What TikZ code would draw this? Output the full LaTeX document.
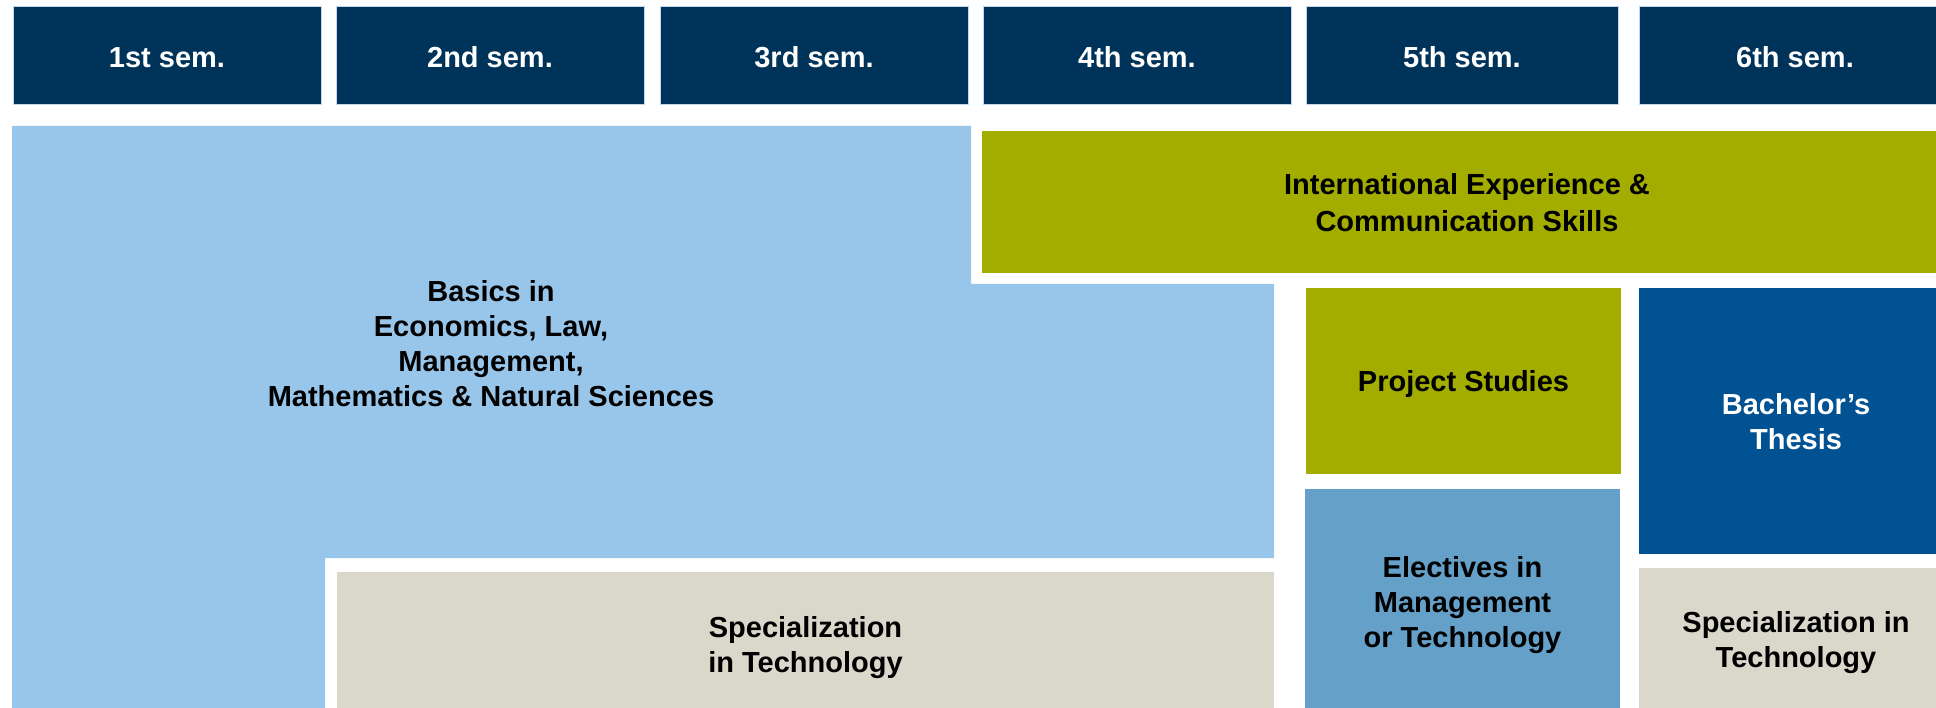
\documentclass[tikz,border=0pt]{standalone}
\usepackage{fontspec}
\setmainfont{Liberation Sans}
\usepackage{tikz}
\usetikzlibrary{positioning}

\definecolor{navy}{HTML}{003359}
\definecolor{rimblue}{HTML}{C2D8EE}
\definecolor{paleblue}{HTML}{98C6EA}
\definecolor{olive}{HTML}{A2AD00}
\definecolor{ivory}{HTML}{DAD7CB}
\definecolor{midblue}{HTML}{64A0C8}
\definecolor{deepblue}{HTML}{005293}

\tikzset{
  sem/.style={rectangle, fill=navy, draw=rimblue, line width=1pt, text=white,
    minimum width=308pt, minimum height=98pt, inner sep=0pt, outer sep=0pt,
    text height=25pt, font=\fontsize{29}{35}\selectfont\bfseries},
  module/.style={rectangle, inner sep=0pt, outer sep=0pt, align=center,
    text depth=0pt, font=\fontsize{29}{35}\selectfont\bfseries},
}

\begin{document}
\begin{tikzpicture}[x=1pt,y=-1pt]
  \useasboundingbox (0,0) rectangle (1936,708);
  \clip (0,0) rectangle (1936,708);

  % semester row
  \node[sem] (s1) at (167,55.5) {1st sem.};
  \node[sem] (s2) [right=15pt of s1] {2nd sem.};
  \node[sem] (s3) [right=16pt of s2] {3rd sem.};
  \node[sem] (s4) [right=15pt of s3] {4th sem.};
  \node[sem, minimum width=312pt] (s5) [right=15pt of s4] {5th sem.};
  \node[sem, minimum width=312pt] (s6) [right=21pt of s5] {6th sem.};

  % basics block, runs over the first four semesters
  \fill[paleblue] (12,126) -- (971,126) -- (971,284) -- (1274,284)
    -- (1274,558) -- (325,558) -- (325,708) -- (12,708) -- cycle;
  \node[module] (basics) at (491,343)
    {Basics in\\Economics, Law,\\Management,\\Mathematics \& Natural Sciences};

  \node[module, fill=ivory, minimum width=937pt, minimum height=144pt]
    (spec) at (805.5,644) {Specialization\\in Technology};

  \node[module, fill=olive, minimum width=970pt, minimum height=142pt]
    (intl) at (1467,202) {International Experience \&\\[2pt]Communication Skills};

  \node[module, fill=olive, minimum width=315pt, minimum height=186pt]
    (proj) at (1463.5,381) {Project Studies};
  \node[module, fill=midblue, minimum width=315pt, minimum height=225pt]
    (elect) at (1462.5,601.5) {Electives in\\Management\\or Technology};

  \node[module, fill=deepblue, text=white, minimum width=314pt, minimum height=266pt]
    (thesis) at (1796,421) {Bachelor’s\\Thesis};
  \node[module, fill=ivory, minimum width=314pt, minimum height=143pt]
    (spec2) at (1796,639.5) {Specialization in\\Technology};
\end{tikzpicture}
\end{document}
